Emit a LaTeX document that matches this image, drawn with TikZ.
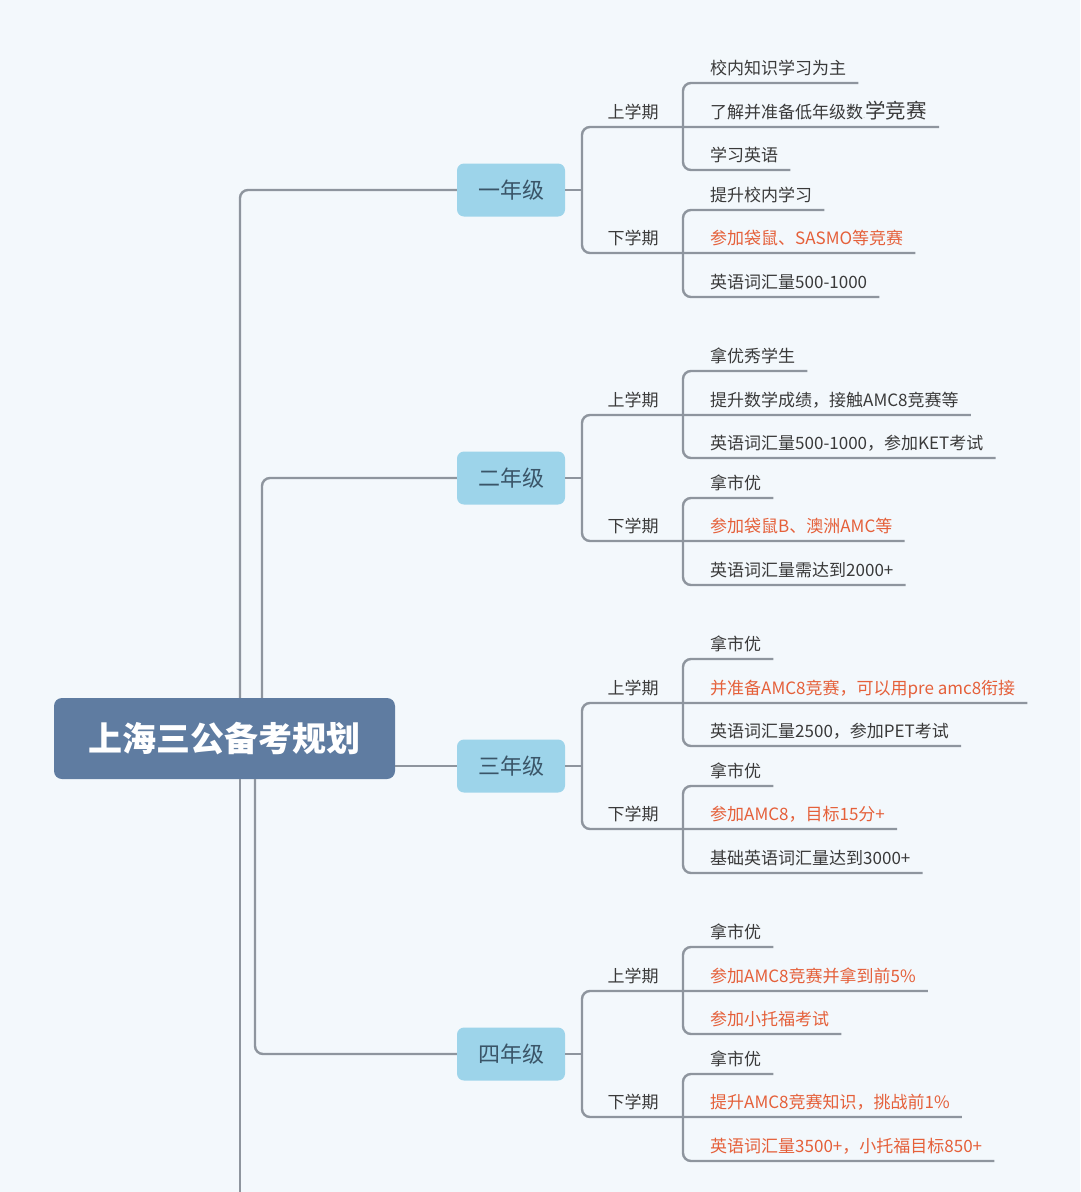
\documentclass[tikz,border=0pt]{standalone}
\usepackage{fontspec}
\setmainfont{Noto Sans CJK SC}
\definecolor{bgc}{HTML}{F3F8FC}
\definecolor{linec}{HTML}{8E959E}
\definecolor{rootc}{HTML}{5F7CA1}
\definecolor{yearc}{HTML}{9DD4EA}
\definecolor{yeartxt}{HTML}{3A5568}
\definecolor{txtc}{HTML}{3A3A3A}
\definecolor{hl}{HTML}{E5603A}
\newcommand\hlt[1]{\textcolor{hl}{#1}}
\tikzset{
  conn/.style={draw=linec, line width=2.4pt, rounded corners=8pt},
  rootbox/.style={fill=rootc, rounded corners=8pt, minimum width=341pt, minimum height=81pt,
    text=white, font=\fontsize{34}{38}\selectfont\bfseries, inner sep=0pt},
  yearbox/.style={fill=yearc, rounded corners=7pt, minimum width=108pt, minimum height=53pt,
    text=yeartxt, font=\fontsize{22}{24}\selectfont, inner sep=0pt},
  semlabel/.style={anchor=south, text=txtc, font=\fontsize{17}{20}\selectfont,
    inner xsep=0pt, inner ysep=8.5pt, text depth=0pt},
  leaf/.style={anchor=south west, text=txtc, font=\fontsize{17}{20}\selectfont,
    inner xsep=12pt, inner ysep=8.5pt, text depth=0pt},
}
\newcommand\yearblock[9]{%
  \coordinate (#1js) at (582,#2);
  \coordinate (#1jl) at (683,#2);
  \node[yearbox] (#1) at (511,#2) {#3};
  \node[semlabel] (#1s1) at (633,#2-63) {上学期};
  \node[semlabel] (#1s2) at (633,#2+63) {下学期};
  \node[leaf] (#1a1) at (698,#2-107) {#4};
  \node[leaf] (#1a2) at (698,#2-63) {#5};
  \node[leaf] (#1a3) at (698,#2-20) {#6};
  \node[leaf] (#1b1) at (698,#2+20) {#7};
  \node[leaf] (#1b2) at (698,#2+63) {#8};
  \node[leaf] (#1b3) at (698,#2+107) {#9};
  \draw[conn] (#1.east) -- (#1js);
  \draw[conn] (#1a2.south east) -- (#1a2.south -| #1js) -- (#1b2.south -| #1js) -- (#1b2.south east);
  \draw[conn] (#1a1.south east) -- (#1a1.south -| #1jl) -- (#1a3.south -| #1jl) -- (#1a3.south east);
  \draw[conn] (#1b1.south east) -- (#1b1.south -| #1jl) -- (#1b3.south -| #1jl) -- (#1b3.south east);
}
\begin{document}
\begin{tikzpicture}[x=1pt, y=-1pt]
  \fill[bgc] (0,0) rectangle (1080,1192);
  \useasboundingbox (0,0) rectangle (1080,1192);

  \node[rootbox] (root) at (224.5,738.5) {上海三公备考规划};

  \yearblock{ga}{190}{一年级}
    {校内知识学习为主}
    {了解并准备低年级数{\textcolor{linec!50}{\fontsize{8}{8}\selectfont .}}{\fontsize{20.5}{22}\selectfont 学竞赛}}
    {学习英语}
    {提升校内学习}
    {\hlt{参加袋鼠、SASMO等竞赛}}
    {英语词汇量500-1000}
  \yearblock{gb}{478}{二年级}
    {拿优秀学生}
    {提升数学成绩，接触AMC8竞赛等}
    {英语词汇量500-1000，参加KET考试}
    {拿市优}
    {\hlt{参加袋鼠B、澳洲AMC等}}
    {英语词汇量需达到2000+}
  \yearblock{gc}{766}{三年级}
    {拿市优}
    {\hlt{并准备AMC8竞赛，可以用pre amc8衔接}}
    {英语词汇量2500，参加PET考试}
    {拿市优}
    {\hlt{参加AMC8，目标15分+}}
    {基础英语词汇量达到3000+}
  \yearblock{gd}{1054}{四年级}
    {拿市优}
    {\hlt{参加AMC8竞赛并拿到前5\%}}
    {\hlt{参加小托福考试}}
    {拿市优}
    {\hlt{提升AMC8竞赛知识，挑战前1\%}}
    {\hlt{英语词汇量3500+，小托福目标850+}}

  \coordinate (xa) at (240,0);
  \coordinate (xb) at (262,0);
  \coordinate (xc) at (255,0);
  \coordinate (ge) at (240,1192);

  \draw[conn] (root.north -| xa) |- (ga.west);
  \draw[conn] (root.north -| xb) |- (gb.west);
  \draw[conn] (gc.west -| root.east) -- (gc.west);
  \draw[conn] (root.south -| xc) |- (gd.west);
  \draw[conn] (root.south -| ge) -- (ge);
\end{tikzpicture}
\end{document}
